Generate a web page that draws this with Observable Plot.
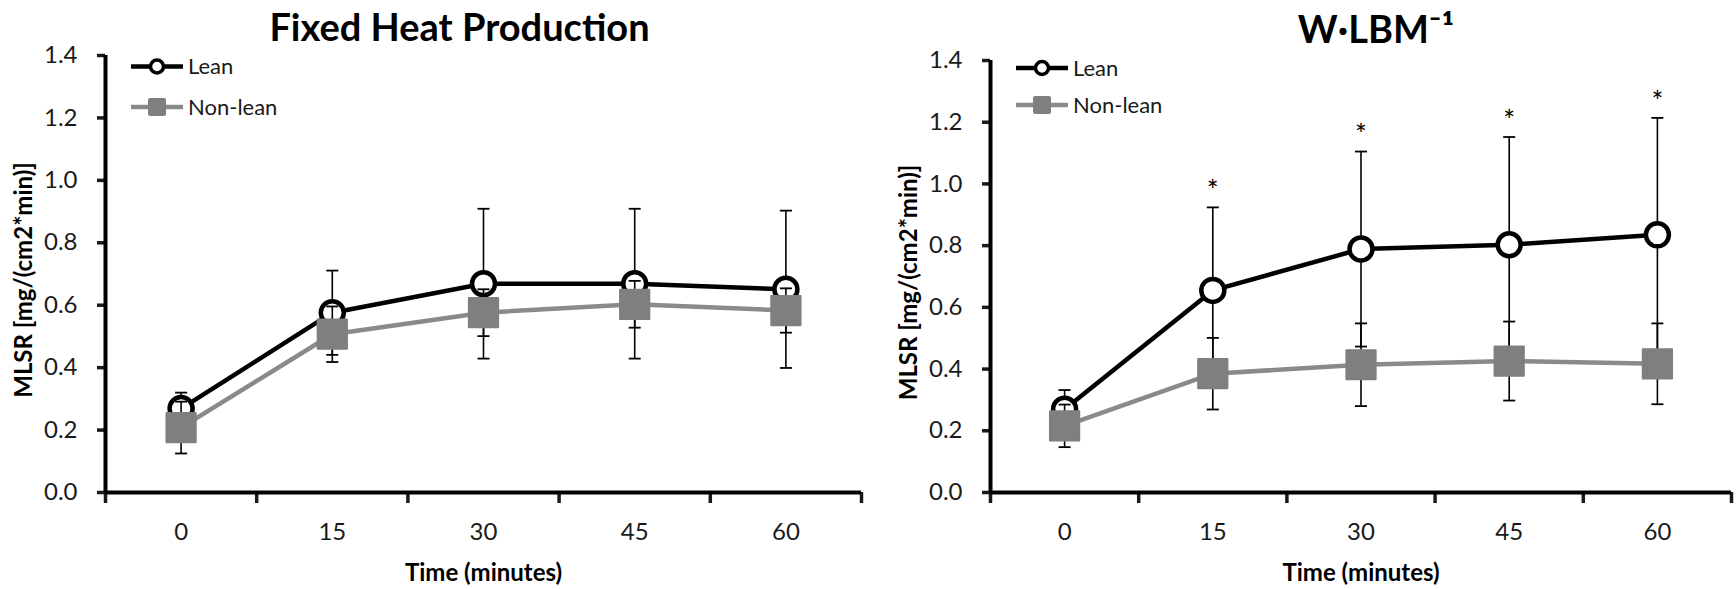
<!DOCTYPE html>
<html>
<head>
<meta charset="utf-8">
<script src="https://cdn.jsdelivr.net/npm/d3@7"></script>
<script src="https://cdn.jsdelivr.net/npm/@observablehq/plot@0.6"></script>
<style>
html, body { margin: 0; padding: 0; background: #fff; }
#wrap { display: flex; width: 1736px; height: 589px; overflow: hidden; }
</style>
</head>
<body>
<div id="wrap"></div>
<script>
// ---- data ----
const times = ["0", "15", "30", "45", "60"];
const yTicks = [0, 0.2, 0.4, 0.6, 0.8, 1.0, 1.2, 1.4];
const seriesNames = ["Lean", "Non-lean"];
const yLabel = "MLSR [mg/(cm2*min)]";
const xLabel = "Time (minutes)";

const fixedTitle = "Fixed Heat Production";
const fixedLean = [0.269, 0.576, 0.669, 0.669, 0.651];
const fixedLeanSD = [0.051, 0.135, 0.240, 0.240, 0.252];
const fixedNonlean = [0.208, 0.507, 0.576, 0.603, 0.583];
const fixedNonleanSD = [0.083, 0.089, 0.075, 0.075, 0.071];
const fixedSig = [false, false, false, false, false];

const wlbmTitle = "W·LBM⁻¹";
const wlbmLean = [0.270, 0.655, 0.789, 0.803, 0.835];
const wlbmLeanSD = [0.062, 0.269, 0.316, 0.349, 0.379];
const wlbmNonlean = [0.216, 0.385, 0.414, 0.426, 0.417];
const wlbmNonleanSD = [0.069, 0.116, 0.134, 0.128, 0.131];
const wlbmSig = [false, true, true, true, true];

// ---- styling ----
const FONT = "Lato, 'Open Sans', sans-serif";
const TXT = "#1a1a1a";
const GRAY_LINE = "#8a8a8a";
const GRAY_MARK = "#7f7f7f";

const capSymbol = {
  draw(ctx, size) {
    const w = Math.sqrt(size / Math.PI);
    ctx.moveTo(-w, 0);
    ctx.lineTo(w, 0);
  }
};

function legendMark(layout) {
  return (index, scales, values, dims) => {
    const g = d3.create("svg:g").attr("text-anchor", "start");
    const L = dims.marginLeft;
    // Lean
    let y = layout.rows[0];
    g.append("line").attr("x1", L + 26).attr("x2", L + 78).attr("y1", y).attr("y2", y)
      .attr("stroke", "#000").attr("stroke-width", 4.5);
    g.append("circle").attr("cx", L + 52).attr("cy", y).attr("r", 6.5)
      .attr("fill", "#fff").attr("stroke", "#000").attr("stroke-width", 3.5);
    g.append("text").attr("x", L + 83).attr("y", y).attr("dy", "0.36em")
      .attr("font-size", 22).attr("fill", TXT).text(seriesNames[0]);
    // Non-lean
    y = layout.rows[1];
    g.append("line").attr("x1", L + 26).attr("x2", L + 78).attr("y1", y).attr("y2", y)
      .attr("stroke", GRAY_LINE).attr("stroke-width", 4.5);
    g.append("rect").attr("x", L + 52 - 9).attr("y", y - 9).attr("width", 18).attr("height", 18)
      .attr("rx", 2).attr("fill", GRAY_MARK);
    g.append("text").attr("x", L + 83).attr("y", y).attr("dy", "0.36em")
      .attr("font-size", 22).attr("fill", TXT).text(seriesNames[1]);
    return g.node();
  };
}

function panel(cfg) {
  const rows = times.map((t, i) => ({
    i,
    lean: cfg.lean[i], leanSD: cfg.leanSD[i],
    nonlean: cfg.nonlean[i], nonleanSD: cfg.nonleanSD[i],
    sig: cfg.sig[i]
  }));
  const xIdx = d3.range(times.length);
  const xBounds = d3.range(times.length + 1).map(k => k - 0.5);
  const capRows = rows.flatMap(d => [
    {i: d.i, y: d.lean + d.leanSD, s: "lean"}, {i: d.i, y: d.lean - d.leanSD, s: "lean"},
    {i: d.i, y: d.nonlean + d.nonleanSD, s: "nonlean"}, {i: d.i, y: d.nonlean - d.nonleanSD, s: "nonlean"}
  ]);

  return Plot.plot({
    width: 868,
    height: 589,
    marginLeft: cfg.marginLeft,
    marginRight: cfg.marginRight,
    marginTop: cfg.marginTop,
    marginBottom: 97,
    style: {fontFamily: FONT, fontSize: "24px", background: "#fff", color: TXT, overflow: "visible"},
    x: {type: "linear", domain: [xBounds[0], xBounds[xBounds.length - 1]]},
    y: {domain: [yTicks[0], yTicks[yTicks.length - 1]]},
    marks: [
      // title
      Plot.text([cfg.title], {frameAnchor: "top", textAnchor: "middle", lineAnchor: "bottom",
        dx: cfg.titleDx, dy: cfg.titleDy, fontSize: 38, fontWeight: 700, fill: "#000"}),
      // y label
      Plot.text([yLabel], {frameAnchor: "left", textAnchor: "middle", lineAnchor: "middle",
        dx: -81, dy: 6, rotate: -90, fontSize: 24, fontWeight: 700, fill: "#000"}),
      // x label
      Plot.text([xLabel], {frameAnchor: "bottom", textAnchor: "middle", lineAnchor: "middle",
        dy: 81, fontSize: 24, fontWeight: 700, fill: "#000"}),
      // axes
      Plot.axisY(yTicks, {tickSize: 8, tickPadding: 20, strokeWidth: 3.5, tickFormat: d3.format(".1f"),
        fontSize: 24, fill: TXT, label: null}),
      Plot.axisX(xBounds, {tickSize: 11, strokeWidth: 3.5, tickFormat: () => "", label: null}),
      Plot.axisX(xIdx, {tickSize: 0, tickPadding: 30, tickFormat: i => times[i], fontSize: 24, fill: TXT, label: null}),
      Plot.ruleX([xBounds[0]], {y1: yTicks[0], y2: yTicks[yTicks.length - 1], stroke: "#000", strokeWidth: 4}),
      Plot.ruleY([yTicks[0]], {stroke: "#000", strokeWidth: 4}),
      // Lean series
      Plot.ruleX(rows, {x: "i", y1: d => d.lean - d.leanSD, y2: d => d.lean + d.leanSD, stroke: "#000", strokeWidth: 1.6}),
      Plot.dot(capRows.filter(d => d.s === "lean"), {x: "i", y: "y", symbol: capSymbol, r: 6, fill: "none", stroke: "#000", strokeWidth: 1.8}),
      Plot.line(rows, {x: "i", y: "lean", stroke: "#000", strokeWidth: 4.5, strokeLinejoin: "round"}),
      Plot.dot(rows, {x: "i", y: "lean", r: 11.5, fill: "#fff", stroke: "#000", strokeWidth: 4.5}),
      // Non-lean series
      Plot.ruleX(rows, {x: "i", y1: d => d.nonlean - d.nonleanSD, y2: d => d.nonlean + d.nonleanSD, stroke: "#000", strokeWidth: 1.6}),
      Plot.dot(capRows.filter(d => d.s === "nonlean"), {x: "i", y: "y", symbol: capSymbol, r: 6, fill: "none", stroke: "#000", strokeWidth: 1.8}),
      Plot.line(rows, {x: "i", y: "nonlean", stroke: GRAY_LINE, strokeWidth: 4.5, strokeLinejoin: "round"}),
      Plot.dot(rows, {x: "i", y: "nonlean", symbol: "square", r: 16.5, fill: GRAY_MARK, stroke: GRAY_MARK, strokeWidth: 2, strokeLinejoin: "round"}),
      // significance markers
      Plot.text(rows.filter(d => d.sig), {x: "i", y: d => d.lean + d.leanSD, text: () => "*", dy: -15,
        fontSize: 28, fill: "#000"}),
      // legend
      legendMark({rows: cfg.legendRows})
    ]
  });
}

const wrap = document.getElementById("wrap");
wrap.appendChild(panel({
  title: fixedTitle, lean: fixedLean, leanSD: fixedLeanSD, nonlean: fixedNonlean, nonleanSD: fixedNonleanSD, sig: fixedSig,
  marginLeft: 105, marginRight: 7, marginTop: 55, titleDx: -24, titleDy: -15, legendRows: [66.5, 107]
}));
wrap.appendChild(panel({
  title: wlbmTitle, lean: wlbmLean, leanSD: wlbmLeanSD, nonlean: wlbmNonlean, nonleanSD: wlbmNonleanSD, sig: wlbmSig,
  marginLeft: 122, marginRight: 5, marginTop: 60, titleDx: 15, titleDy: -18, legendRows: [68, 105]
}));
</script>
</body>
</html>
